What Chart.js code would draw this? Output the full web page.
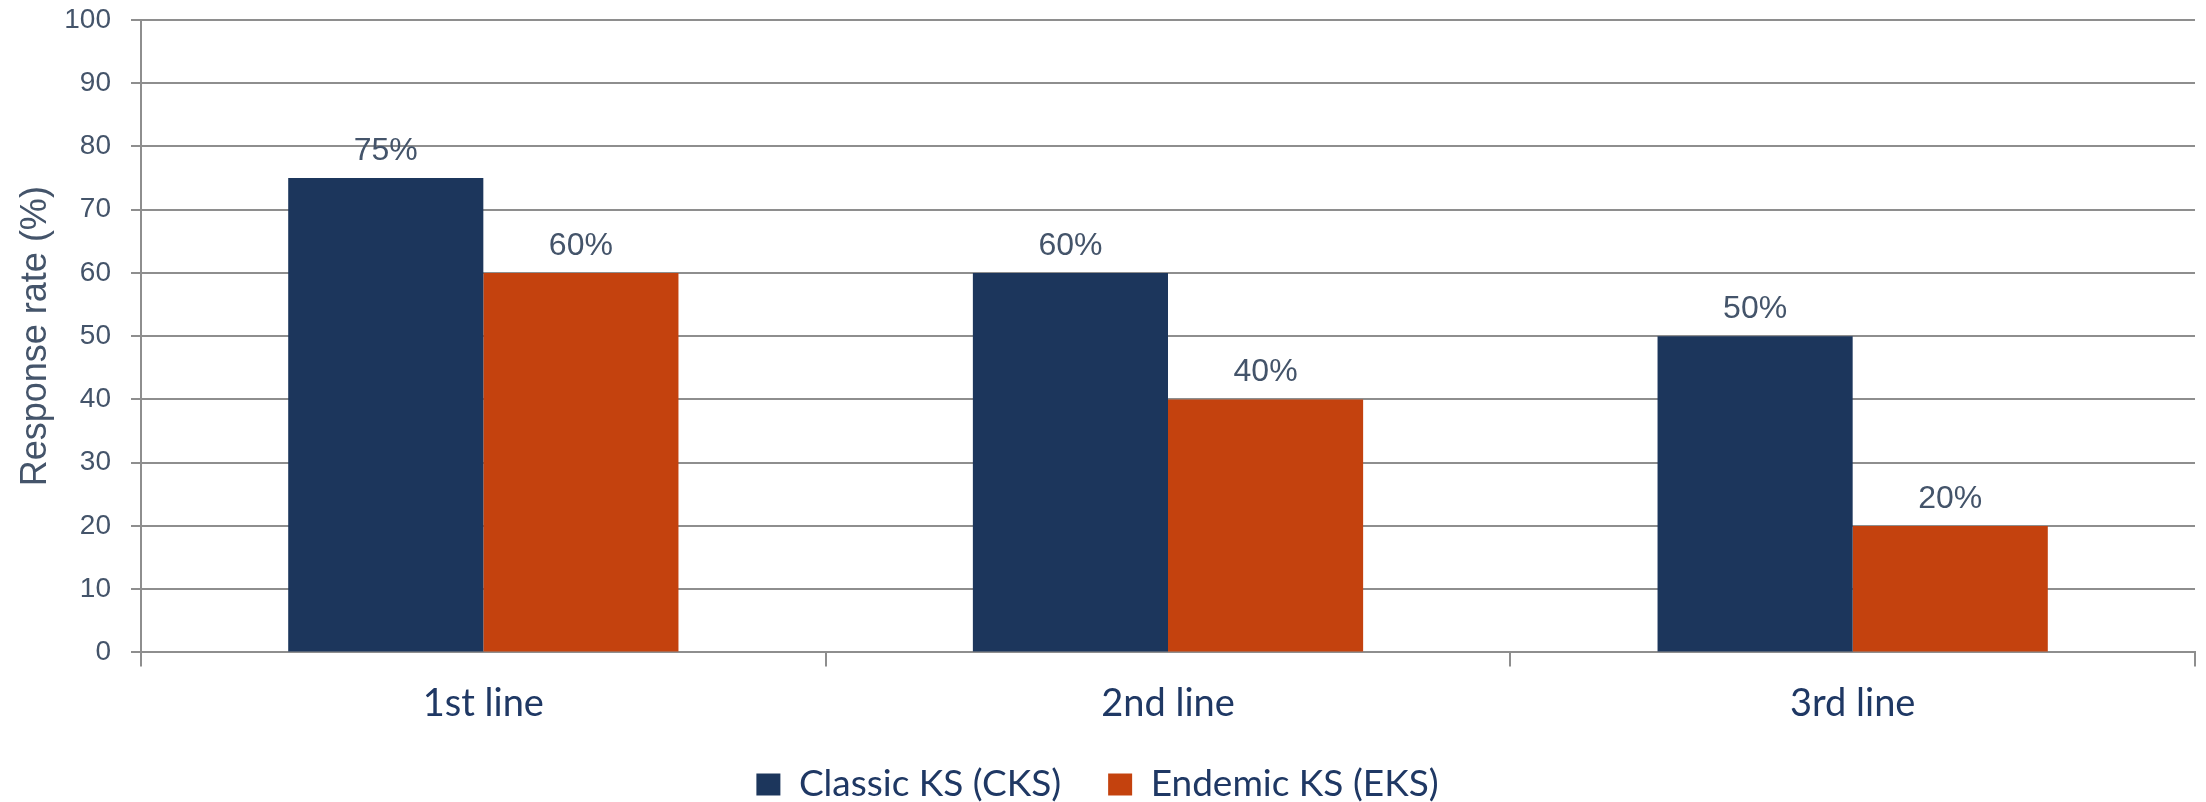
<!DOCTYPE html>
<html>
<head>
<meta charset="utf-8">
<script src="https://cdn.jsdelivr.net/npm/chart.js@4/dist/chart.umd.min.js"></script>
<style>
  html, body { margin: 0; padding: 0; background: #fff; }
</style>
</head>
<body>
<canvas id="responseChart" width="2206" height="802"></canvas>
<script>
const lines = ['1st line', '2nd line', '3rd line'];
const classicKS = [75, 60, 50];
const endemicKS = [60, 40, 20];
const seriesNames = ['Classic KS (CKS)', 'Endemic KS (EKS)'];
const yTicks = [0, 10, 20, 30, 40, 50, 60, 70, 80, 90, 100];

const gridGrey = '#8e8e8e';
const slate = '#44546a';
const navyText = '#1f3864';
const arial = '"Liberation Sans", Arial, sans-serif';

// percent labels above each bar
const valueLabels = {
    id: 'valueLabels',
    afterDatasetsDraw(chart) {
        const ctx = chart.ctx;
        ctx.save();
        ctx.font = '32px ' + arial;
        ctx.fillStyle = slate;
        ctx.textAlign = 'center';
        ctx.textBaseline = 'alphabetic';
        chart.data.datasets.forEach((ds, i) => {
            chart.getDatasetMeta(i).data.forEach((bar, j) => {
                ctx.fillText(ds.data[j] + '%', bar.x, bar.y - 18);
            });
        });
        ctx.restore();
    }
};

// pull the legend row up a little, closer to the axis labels
const legendLift = {
    id: 'legendLift',
    afterLayout(chart) {
        chart.legend.top -= 23;
        chart.legend.bottom -= 23;
    }
};

const ctx = document.getElementById('responseChart').getContext('2d');
new Chart(ctx, {
    type: 'bar',
    data: {
        labels: lines,
        datasets: [{
            label: seriesNames[0],
            data: classicKS,
            backgroundColor: '#1c365c',
        }, {
            label: seriesNames[1],
            data: endemicKS,
            backgroundColor: '#c4420e',
        }]
    },
    options: {
        responsive: false,
        animation: false,
        categoryPercentage: 0.57,
        barPercentage: 1.0,
        layout: { padding: { top: 20, right: 11, left: 0, bottom: -34 } },
        plugins: {
            legend: {
                position: 'bottom',
                labels: {
                    boxWidth: 24,
                    boxHeight: 22,
                    padding: 47,
                    color: navyText,
                    font: { family: 'Lato', size: 37 }
                }
            },
            tooltip: { enabled: false }
        },
        scales: {
            x: {
                grid: {
                    offset: true,
                    drawOnChartArea: false,
                    tickLength: 14,
                    color: gridGrey,
                    lineWidth: 2
                },
                border: { color: gridGrey, width: 2 },
                ticks: {
                    padding: 15,
                    color: navyText,
                    font: { family: 'Lato', size: 38 }
                }
            },
            y: {
                min: 0,
                max: 100,
                afterFit(scale) {
                    scale.width = 141;
                    scale.paddingTop = 0;
                    scale.paddingBottom = 0;
                },
                afterBuildTicks(scale) { scale.ticks = yTicks.map(v => ({ value: v })); },
                grid: { color: gridGrey, lineWidth: 2, tickLength: 10 },
                border: { color: gridGrey, width: 2 },
                ticks: {
                    padding: 20,
                    color: slate,
                    font: { family: arial, size: 28 }
                },
                title: {
                    display: true,
                    text: 'Response rate (%)',
                    color: slate,
                    padding: { top: 14, bottom: 0 },
                    font: { family: arial, size: 36 }
                }
            }
        }
    },
    plugins: [valueLabels, legendLift]
});
</script>
</body>
</html>
